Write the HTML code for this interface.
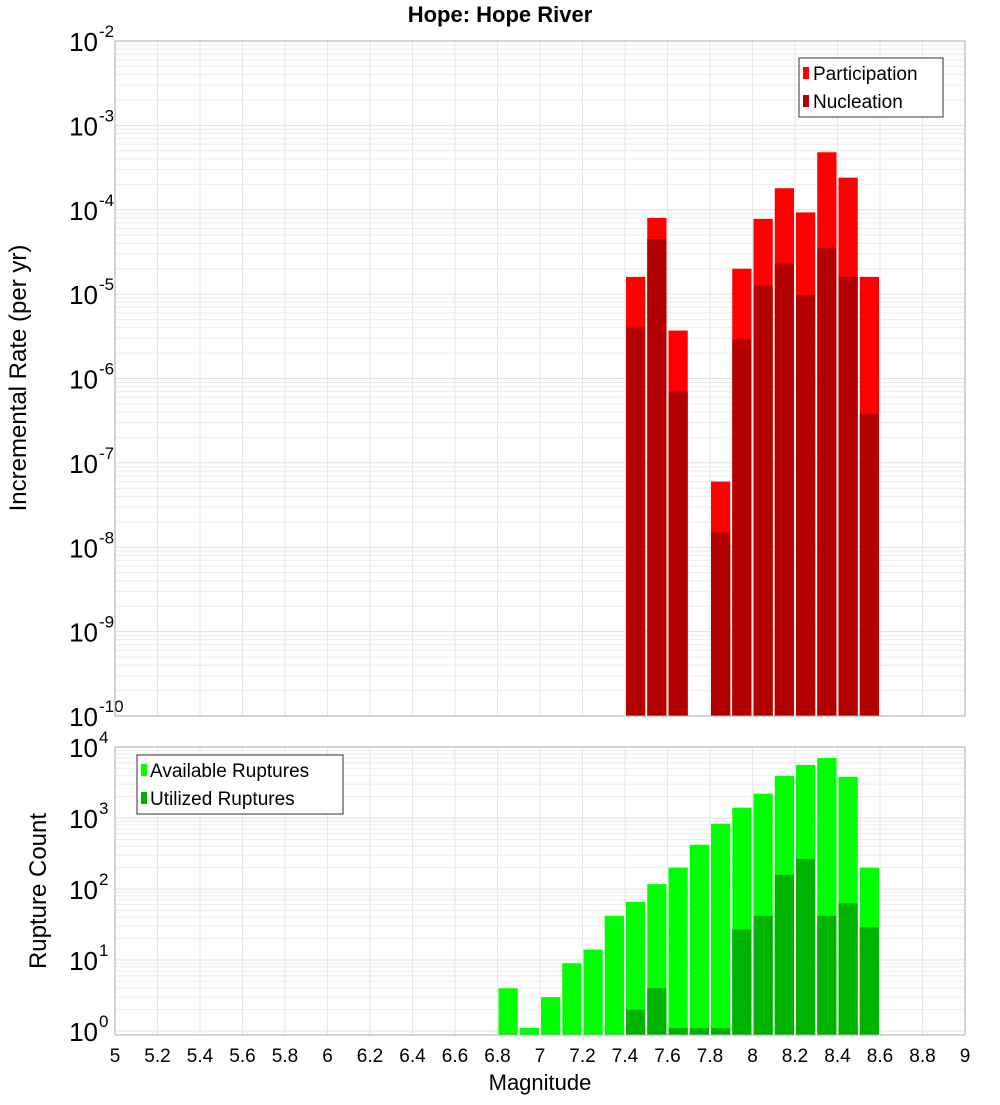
<!DOCTYPE html>
<html><head><meta charset="utf-8"><style>
body{margin:0;background:#fff;width:1000px;height:1100px;overflow:hidden}
text{font-family:"Liberation Sans","DejaVu Sans",sans-serif;fill:#000}
</style></head><body>
<svg id="c" width="1000" height="1100" xmlns="http://www.w3.org/2000/svg">
<text x="500" y="22" font-size="22" font-weight="bold" text-anchor="middle">Hope: Hope River</text>
<text transform="translate(26,378) rotate(-90)" font-size="24" text-anchor="middle">Incremental Rate (per yr)</text>
<text transform="translate(46,891) rotate(-90)" font-size="24" text-anchor="middle">Rupture Count</text>
<text x="540" y="1090" font-size="22" text-anchor="middle">Magnitude</text>
<g id="top"></g><g id="bot"></g>
<g>
<rect x="799" y="58" width="144" height="59" fill="#fff" stroke="#333"/>
<rect x="803" y="67" width="6" height="12" fill="#ff0000"/><text x="813" y="80" font-size="19">Participation</text>
<rect x="803" y="95" width="6" height="12" fill="#b30000"/><text x="813" y="108" font-size="19">Nucleation</text>
</g>
<g>
<rect x="137" y="755" width="206" height="59" fill="#fff" stroke="#333"/>
<rect x="141" y="764" width="6" height="12" fill="#00ff00"/><text x="150" y="777" font-size="19">Available Ruptures</text>
<rect x="141" y="792" width="6" height="12" fill="#00b300"/><text x="150" y="805" font-size="19">Utilized Ruptures</text>
</g>
</svg>
<script>
const mags=[7.45,7.55,7.65,7.75,7.85,7.95,8.05,8.15,8.25,8.35,8.45,8.55];
const participation=[1.6e-5,8e-5,3.7e-6,0,6e-8,2e-5,7.8e-5,1.8e-4,9.3e-5,4.8e-4,2.4e-4,1.6e-5];
const nucleation=[4e-6,4.5e-5,7e-7,0,1.5e-8,2.9e-6,1.26e-5,2.3e-5,9.8e-6,3.5e-5,1.6e-5,3.8e-7];
const cmags=[6.85,6.95,7.05,7.15,7.25,7.35,7.45,7.55,7.65,7.75,7.85,7.95,8.05,8.15,8.25,8.35,8.45,8.55];
const available=[4,1.1,3,9,14,42,66,117,200,420,830,1400,2200,3900,5600,7000,3800,200];
const utilized=[0,0,0,0,0,0,2,4,1.1,1.1,1.1,27,42,158,265,42,63,29];
const xTicks=[5,5.2,5.4,5.6,5.8,6,6.2,6.4,6.6,6.8,7,7.2,7.4,7.6,7.8,8,8.2,8.4,8.6,8.8,9];
const NS="http://www.w3.org/2000/svg";
const X0=115,X1=965;
const xs=m=>X0+(m-5)/4*(X1-X0);
const yTop=v=>41+(-2-Math.log10(v))*84.375;
const yBot=v=>747+(4-Math.log10(v))*71;
function el(p,t,a){const e=document.createElementNS(NS,t);for(const k in a)e.setAttribute(k,a[k]);p.appendChild(e);return e;}
function panel(g,top,bot,ys,dMin,dMax,name){
  const bg=el(g,'rect',{x:X0,y:top,width:X1-X0,height:bot-top,fill:'#fff'});
  
  
  for(let d=dMin;d<=dMax;d++){for(let k=1;k<10;k++){const y=ys(k*Math.pow(10,d));if(y<top||y>bot)continue;
    const l=el(g,'line',{x1:X0,x2:X1,y1:y,y2:y,stroke:k==1?'#e0e0e0':'#ececec','stroke-width':1});
    
    }}
  xTicks.forEach(t=>{const x=xs(t);const l=el(g,'line',{x1:x,x2:x,y1:top,y2:bot,stroke:'#e6e6e6'});
    
    });
  for(let d=dMin;d<=dMax;d++){const y=ys(Math.pow(10,d));if(y<top-2||y>bot+2)continue;
    const t=el(g,'text',{x:98,y:y+10,'font-size':26,'text-anchor':'end'});t.textContent='10';
    
    
    const s=el(g,'text',{x:99,y:y-4,'font-size':17});s.textContent=String(d);
    
    }
}
function bars(g,ms,vals,ys,bot,col,name){
  ms.forEach((m,i)=>{const v=vals[i];if(!(v>0))return;const y=ys(v);
    const r=el(g,'rect',{x:xs(m-0.05)+1,y:y,width:xs(m+0.05)-xs(m-0.05)-2,height:bot-y,fill:col});
    
    });
}
const gt=document.getElementById('top'),gb=document.getElementById('bot');
panel(gt,41,716,yTop,-10,-2,'top');
bars(gt,mags,participation,yTop,716,'#ff0000','participation');
bars(gt,mags,nucleation,yTop,716,'#b30000','nucleation');
el(gt,'rect',{x:X0,y:41,width:X1-X0,height:675,fill:'none',stroke:'#aaa'});
panel(gb,747,1035,yBot,0,4,'bottom');
bars(gb,cmags,available,yBot,1035,'#00ff00','available');
bars(gb,cmags,utilized,yBot,1035,'#00b300','utilized');
el(gb,'rect',{x:X0,y:747,width:X1-X0,height:288,fill:'none',stroke:'#aaa'});
xTicks.forEach(t=>{const e=el(gb,'text',{x:xs(t),y:1062,'font-size':19,'text-anchor':'middle'});e.textContent=String(t);
  
  });
</script>
</body></html>
